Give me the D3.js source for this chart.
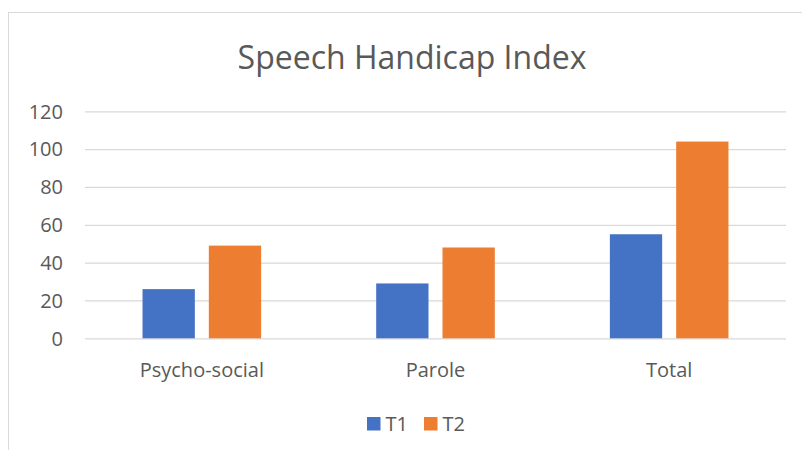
<!DOCTYPE html>
<html><head><meta charset="utf-8">
<script src="https://cdn.jsdelivr.net/npm/d3@7"></script>
<style>body{margin:0;background:#fff}svg{display:block}text{font-family:"Open Sans",sans-serif}</style>
</head><body>
<script>
const categories = ["Psycho-social", "Parole", "Total"];
const seriesNames = ["T1", "T2"];
const t1Values = [26, 29, 55];
const t2Values = [49, 48, 104];
const yTicks = [0, 20, 40, 60, 80, 100, 120];
const colors = ["#4472C4", "#ED7D31"];

const W = 802, H = 450;
const svg = d3.select("body").append("svg").attr("width", W).attr("height", H);
svg.append("rect").attr("x", 8.5).attr("y", 12.5).attr("width", W + 10).attr("height", H + 10)
  .attr("fill", "#fff").attr("stroke", "#d9d9d9").attr("stroke-width", 1);

const plot = {left: 85, right: 786, top: 111.3, bottom: 338.3};
const x = d3.scaleBand().domain(categories).range([plot.left, plot.right]).paddingInner(0).paddingOuter(0);
const y = d3.scaleLinear().domain([0, 120]).range([plot.bottom, plot.top]);

svg.append("text").attr("x", 412).attr("y", 68.5).attr("text-anchor", "middle")
  .attr("font-size", 32).attr("fill", "#595959").text("Speech Handicap Index");

const yAxis = d3.axisLeft(y).tickValues(yTicks).tickSize(-(plot.right - plot.left)).tickPadding(22);
const gy = svg.append("g").attr("transform", `translate(${plot.left},0)`).call(yAxis);
gy.select(".domain").remove();
gy.selectAll(".tick line").attr("stroke", "#d9d9d9").attr("stroke-width", 1.3);
gy.selectAll(".tick text").attr("font-size", 20).attr("fill", "#595959")
  .attr("font-family", "Open Sans, sans-serif").attr("dy", "0.34em");

const data = categories.map((c, i) => ({cat: c, vals: [t1Values[i], t2Values[i]]}));
const barW = 52.3, gap = 14;
const inner = d3.scaleOrdinal().domain(seriesNames).range([-(gap / 2 + barW), gap / 2]);
const groups = svg.append("g").selectAll("g").data(data).join("g")
  .attr("transform", d => `translate(${x(d.cat) + x.bandwidth() / 2},0)`);
groups.selectAll("rect").data(d => d.vals.map((v, k) => ({v, s: seriesNames[k], k}))).join("rect")
  .attr("x", d => inner(d.s)).attr("width", barW)
  .attr("y", d => y(d.v)).attr("height", d => y(0) - y(d.v))
  .attr("fill", d => colors[d.k]);

const xAxis = d3.axisBottom(x).tickSize(0).tickPadding(22);
const gx = svg.append("g").attr("transform", `translate(0,${plot.bottom})`).call(xAxis);
gx.select(".domain").remove();
gx.selectAll(".tick text").attr("font-size", 20).attr("fill", "#595959")
  .attr("font-family", "Open Sans, sans-serif").attr("y", 39).attr("dy", null);

const legend = svg.append("g");
const legX = [367, 424];
seriesNames.forEach((s, i) => {
  legend.append("rect").attr("x", legX[i]).attr("y", 417).attr("width", 13.5).attr("height", 13.5).attr("fill", colors[i]);
  legend.append("text").attr("x", legX[i] + 18.5).attr("y", 430.5).attr("font-size", 20).attr("fill", "#595959").text(s);
});
</script>
</body></html>
